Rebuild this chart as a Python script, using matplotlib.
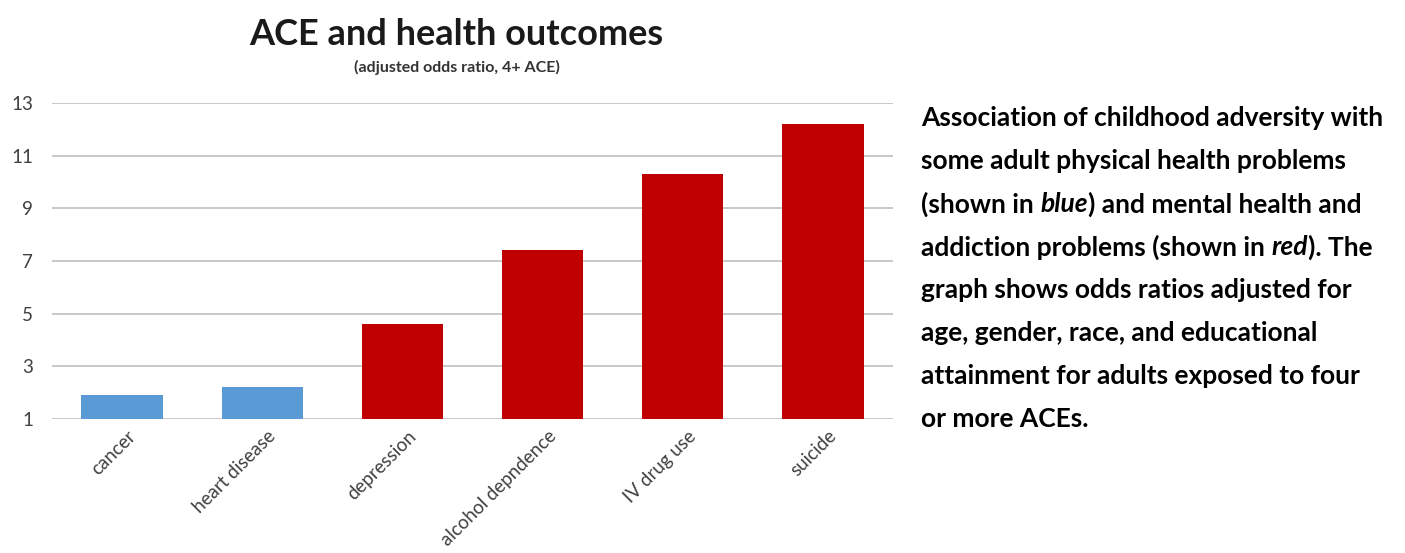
import matplotlib.pyplot as plt
import matplotlib.transforms as mtransforms
import numpy as np

###--- Data ---###
outcomes = ['cancer', 'heart disease', 'depression', 'alcohol depndence', 'IV drug use', 'suicide']
odds_ratio = [1.9, 2.2, 4.6, 7.4, 10.3, 12.2]
is_mental = [False, False, True, True, True, True]
y_ticks = [1, 3, 5, 7, 9, 11, 13]

blue = '#5B9BD5'
red = '#C00000'
bar_colors = [red if m else blue for m in is_mental]

plt.rcParams['font.family'] = ['Lato', 'DejaVu Sans']

fig = plt.figure(figsize=(14.05, 5.53), dpi=100)
ax = fig.add_axes([52 / 1405, 1 - 419 / 553, 841 / 1405, 316 / 553])

x = np.arange(len(outcomes))
# bars start at 1 (the chart baseline)
ax.bar(x, np.array(odds_ratio) - 1, bottom=1, width=0.58, color=bar_colors, zorder=3)

ax.set_ylim(1, 13)
ax.set_xlim(-0.5, 5.5)
ax.set_yticks(y_ticks)
ax.yaxis.grid(True, color='#C8C8C8', linewidth=1.4, zorder=0)
for s in ax.spines.values():
    s.set_visible(False)
ax.tick_params(axis='both', length=0, colors='#404040')
ax.tick_params(axis='y', pad=13.5, labelsize=13.5)
ax.tick_params(axis='x', pad=6)
ax.set_xticks(x)
ax.set_xticklabels(outcomes, rotation=45, ha='right', rotation_mode='anchor', fontsize=13.5)
shift = mtransforms.ScaledTranslation(5 / 100, 0, fig.dpi_scale_trans)
for lab in ax.get_xticklabels():
    lab.set_transform(lab.get_transform() + shift)

fig.text(456 / 1405, 1 - 45 / 553, 'ACE and health outcomes', ha='center', va='baseline',
         fontsize=26, fontweight='bold', color='#1a1a1a')
fig.text(457 / 1405, 1 - 72 / 553, '(adjusted odds ratio, 4+ ACE)', ha='center', va='baseline',
         fontsize=11.5, fontweight='bold', color='#333333')

# caption on the right, piece by piece to allow italic words
lines = [
    [('Association of childhood adversity with', 'normal')],
    [('some adult physical health problems', 'normal')],
    [('(shown in ', 'normal'), ('blue', 'italic'), (') and mental health and', 'normal')],
    [('addiction problems (shown in ', 'normal'), ('red', 'italic'), ('). The', 'normal')],
    [('graph shows odds ratios adjusted for', 'normal')],
    [('age, gender, race, and educational', 'normal')],
    [('attainment for adults exposed to four', 'normal')],
    [('or more ACEs.', 'normal')],
]
renderer = fig.canvas.get_renderer()
x0 = 921
y_first = 118
line_gap = 43.0
for i, parts in enumerate(lines):
    xp = x0
    yp = 553 - (y_first + i * line_gap)
    for txt, style in parts:
        t = fig.text(xp / 1405, yp / 553, txt, ha='left', va='center',
                     fontsize=19, fontweight='bold', style=style, color='black')
        bb = t.get_window_extent(renderer)
        xp = bb.x1

fig.savefig('out.png', dpi=100)
